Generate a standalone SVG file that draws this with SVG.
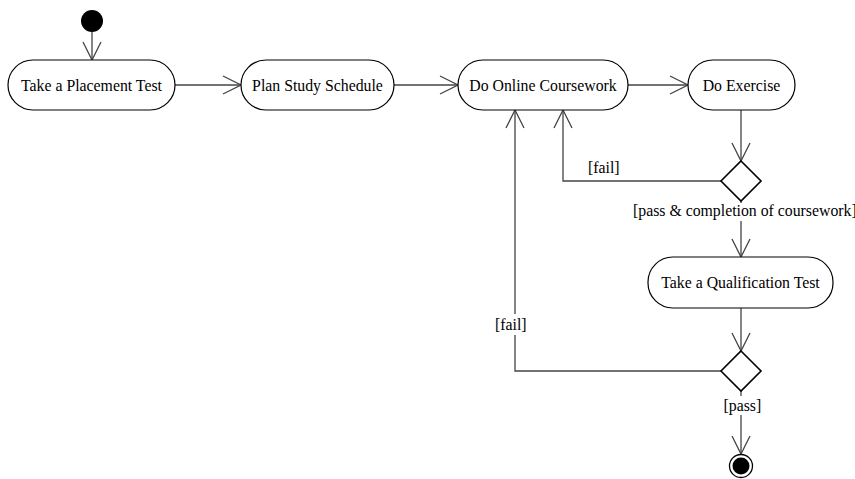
<svg xmlns="http://www.w3.org/2000/svg" width="855" height="479" viewBox="0 0 855 479">
<style>
  .node rect { fill: #fff; stroke: #000; stroke-width: 1.2; }
  .node text, .lbl text { font-family: "Liberation Serif", "Times New Roman", serif; font-size: 15.8px; fill: #000; }
  .node text { text-anchor: middle; }
  .edge { fill: none; stroke: #444; stroke-width: 1.3; marker-end: url(#arr); }
  .dec { fill: #fff; stroke: #000; stroke-width: 1.6; }
  .bg { fill: #fff; }
</style>
<defs>
  <marker id="arr" viewBox="0 0 20 20" refX="20" refY="10" markerWidth="20" markerHeight="20" markerUnits="userSpaceOnUse" orient="auto">
    <path d="M2,1 L20,10 L2,19" fill="none" stroke="#444" stroke-width="1.3"/>
  </marker>
</defs>
<rect width="855" height="479" fill="#fff"/>

<g id="connectors">
  <path class="edge" d="M92,32 L92,60"/>
  <path class="edge" d="M175,85 L241,85"/>
  <path class="edge" d="M394,85 L458,85"/>
  <path class="edge" d="M628,85 L688,85"/>
  <path class="edge" d="M741,110 L741,161"/>
  <path class="edge" d="M721,181 L563,181 L563,110"/>
  <path class="edge" d="M741,201 L741,257"/>
  <path class="edge" d="M741,308 L741,351"/>
  <path class="edge" d="M721,371 L515,371 L515,110"/>
  <path class="edge" d="M741,391 L741,454"/>
</g>

<g id="labels" class="lbl">
  <text x="588" y="173">[fail]</text>
  <rect class="bg" x="632" y="203" width="223" height="18"/>
  <text x="633" y="216">[pass &amp; completion of coursework]</text>
  <rect class="bg" x="494" y="314" width="35" height="21"/>
  <text x="495" y="330">[fail]</text>
  <rect class="bg" x="722" y="396" width="42" height="19"/>
  <text x="723.5" y="411">[pass]</text>
</g>

<g id="start">
  <circle cx="92" cy="21" r="11" fill="#000"/>
</g>

<g id="takePlacementTest" class="node">
  <rect x="8" y="60" width="167" height="50" rx="25" ry="25"/>
  <text x="91.5" y="91">Take a Placement Test</text>
</g>
<g id="planStudySchedule" class="node">
  <rect x="241" y="60" width="153" height="50" rx="25" ry="25"/>
  <text x="317.5" y="91">Plan Study Schedule</text>
</g>
<g id="doOnlineCoursework" class="node">
  <rect x="458" y="60" width="170" height="50" rx="25" ry="25"/>
  <text x="543" y="91">Do Online Coursework</text>
</g>
<g id="doExercise" class="node">
  <rect x="688" y="60" width="107" height="50" rx="25" ry="25"/>
  <text x="741.5" y="91">Do Exercise</text>
</g>
<g id="decision1">
  <path class="dec" d="M741,161 L761,181 L741,201 L721,181 Z"/>
</g>
<g id="takeQualificationTest" class="node">
  <rect x="648" y="257" width="185" height="51" rx="25" ry="25"/>
  <text x="740.5" y="288">Take a Qualification Test</text>
</g>
<g id="decision2">
  <path class="dec" d="M741,351 L761,371 L741,391 L721,371 Z"/>
</g>
<g id="end">
  <circle cx="741" cy="466" r="11.5" fill="#fff" stroke="#000" stroke-width="1.3"/>
  <circle cx="741" cy="466" r="8.5" fill="#000"/>
</g>
</svg>
